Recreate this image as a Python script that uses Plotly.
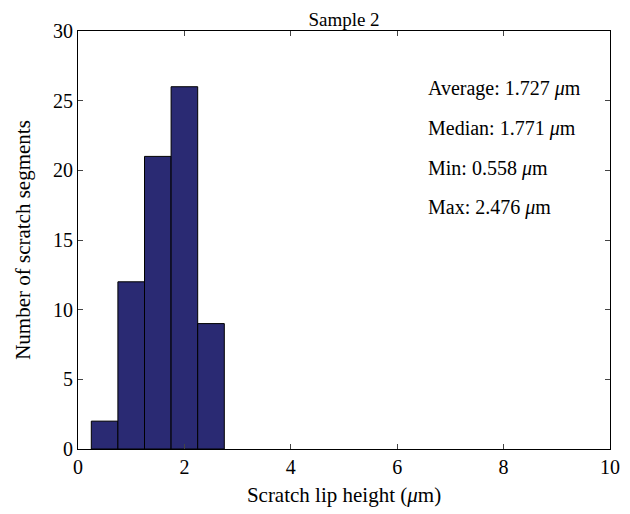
import plotly.graph_objects as go

bin_centers = [0.5, 1.0, 1.5, 2.0, 2.5]
counts = [2, 12, 21, 26, 9]
stat_labels = ["Average: 1.727 <i>μ</i>m", "Median: 1.771 <i>μ</i>m",
               "Min: 0.558 <i>μ</i>m", "Max: 2.476 <i>μ</i>m"]
stat_y = [25.9, 23.0, 20.15, 17.3]

FONT = "Liberation Serif"

fig = go.Figure()
fig.add_trace(go.Bar(x=bin_centers, y=counts, width=0.5,
                     marker=dict(color="rgb(42,42,115)", line=dict(color="black", width=1))))

for t, yv in zip(stat_labels, stat_y):
    fig.add_annotation(x=6.55, y=yv, text=t, showarrow=False, xanchor="left",
                       yanchor="middle", font=dict(family=FONT, size=20, color="black"))

fig.update_layout(
    width=630, height=514,
    margin=dict(l=70, r=28, t=21, b=73),
    paper_bgcolor="white", plot_bgcolor="white",
    showlegend=False,
    font=dict(family=FONT, size=20, color="black"),
    title=dict(text="Sample 2", x=0.5, xref="paper", xanchor="center",
               y=1, yref="paper", yanchor="bottom", pad=dict(b=5),
               font=dict(family=FONT, size=19, color="black")),
    xaxis=dict(range=[0, 10], tickvals=[0, 2, 4, 6, 8, 10], ticks="inside", ticklen=5,
               showline=True, linecolor="black", linewidth=1, mirror="ticks",
               showgrid=False, zeroline=False, tickfont=dict(size=20),
               title=dict(text="Scratch lip height (<i>μ</i>m)", standoff=10,
                          font=dict(family=FONT, size=21))),
    yaxis=dict(range=[0, 30], tickvals=[0, 5, 10, 15, 20, 25, 30], ticks="inside", ticklen=5,
               showline=True, linecolor="black", linewidth=1, mirror="ticks",
               showgrid=False, zeroline=False, tickfont=dict(size=20),
               title=dict(text="Number of scratch segments", standoff=16,
                          font=dict(family=FONT, size=21))),
)

fig.write_html("out.html")
